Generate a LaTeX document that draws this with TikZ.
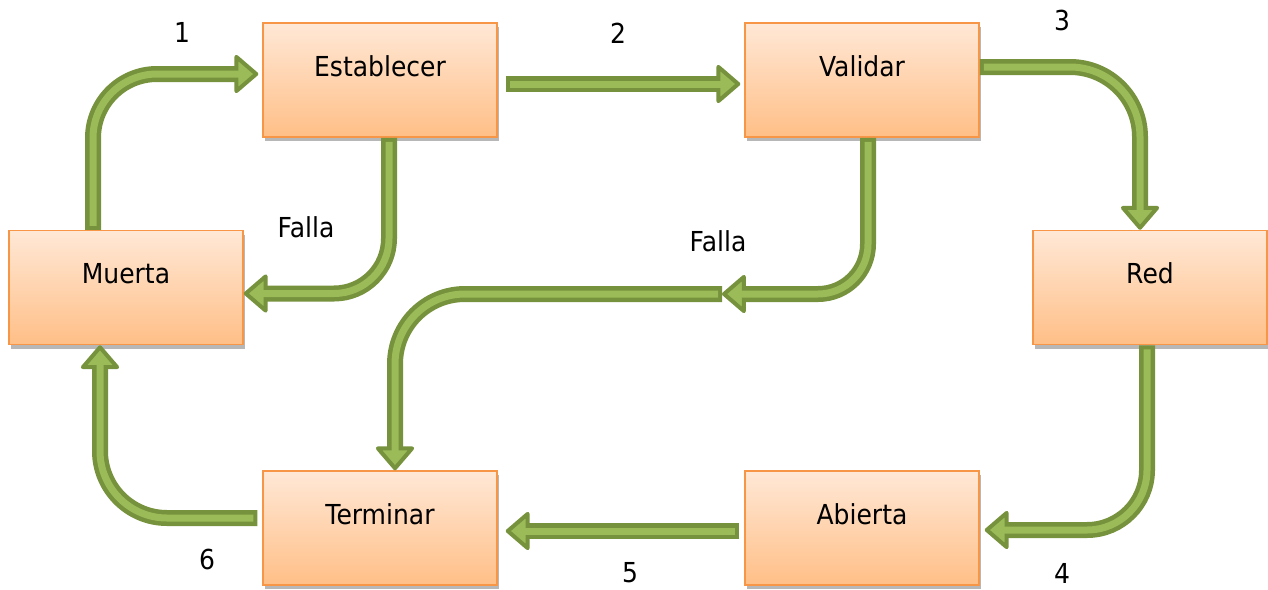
\documentclass[tikz,border=0pt]{standalone}
\usepackage{fontspec}
\setmainfont{DejaVu Sans}[FakeStretch=0.91]
\usetikzlibrary{arrows.meta,calc,shadows}
\definecolor{boxtop}{HTML}{FFE8D6}
\definecolor{boxbot}{HTML}{FFBF87}
\definecolor{boxline}{HTML}{F79646}
\definecolor{flowdark}{HTML}{76923C}
\definecolor{flowlight}{HTML}{9BBB59}
\begin{document}
\begin{tikzpicture}[x=1pt,y=-1pt,
  state/.style={rectangle, draw=boxline, line width=1.5pt,
    top color=boxtop, bottom color=boxbot,
    minimum width=234pt, minimum height=114pt,
    text height=0pt, text depth=8pt, inner sep=0pt,
    font=\fontsize{27.5}{33}\selectfont,
    drop shadow={shadow xshift=1.5pt, shadow yshift=-4pt, opacity=0.4, fill=black!70}},
  tag/.style={font=\fontsize{27.5}{33}\selectfont, inner sep=0pt},
  flow/.style={draw=flowdark, line width=16pt, line cap=butt,
    -{Triangle[length=25pt, width=42pt, line width=4pt, fill=flowlight, color=flowdark, round]},
    postaction={draw=flowlight, line width=7pt, arrows=-, shorten <=4pt, shorten >=16pt}},
]
\useasboundingbox (0,0) rectangle (1268,589);

% states
\node[state] (est) at (380,80)    {Establecer};
\node[state] (val) at (862,80)    {Validar};
\node[state] (red) at (1150,287.5) {Red};
\node[state] (mue) at (126,287.5) {Muerta};
\node[state] (ter) at (380,528)   {Terminar};
\node[state] (abi) at (862,528)   {Abierta};

% junction of the two failure arrows
\coordinate (fall) at (722,294);

% main cycle
\draw[flow, rounded corners=64pt] ($(mue.north)+(-33,0)$) |- ($(est.west)+(-4,-6)$);
\draw[flow] ($(est.east)+(8,4)$) -- ($(val.west)+(-4,4)$);
\draw[flow, rounded corners=70pt] ($(val.east)+(0,-13)$) -| ($(red.north)+(-10,0)$);
\draw[flow, rounded corners=60pt] ($(red.south)+(-3,0)$) |- ($(abi.east)+(5,2)$);
\draw[flow] ($(abi.west)+(-5,3)$) -- ($(ter.east)+(8,3)$);
\draw[flow, rounded corners=67pt] ($(ter.west)+(-5,-10)$) -| ($(mue.south)+(-26,0)$);

% failure paths
\draw[flow, rounded corners=55pt] ($(est.south)+(9,0)$) |- ($(mue.east)+(0,6)$);
\draw[flow, rounded corners=50pt] ($(val.south)+(6,0)$) |- (fall);
\draw[flow, rounded corners=70pt] (fall) -| ($(ter.north)+(15,0)$);

% labels
\node[tag] (n1) at (182,32)  {1};
\node[tag] (n2) at (618,33)  {2};
\node[tag] (n3) at (1062,20) {3};
\node[tag] (n4) at (1062,573) {4};
\node[tag] (n5) at (630,573) {5};
\node[tag] (n6) at (207,559) {6};
\node[tag] (f1) at (306,227) {Falla};
\node[tag] (f2) at (718,241) {Falla};
\end{tikzpicture}
\end{document}
